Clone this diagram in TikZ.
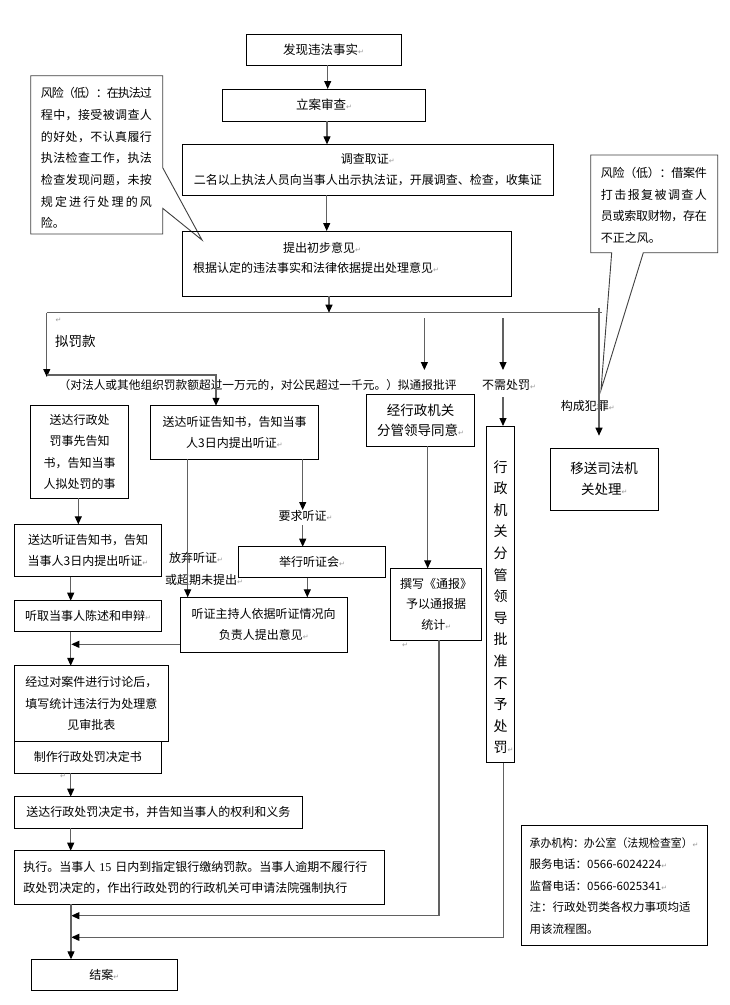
\documentclass[tikz,border=0pt]{standalone}
\usepackage{fontspec}
\usepackage{graphicx}
\setmainfont{Noto Sans CJK SC}
\newfontfamily\symf{DejaVu Sans}
\newfontfamily\serf{Liberation Serif}
\usetikzlibrary{arrows.meta}
\newcommand\fs[2]{\fontsize{#1}{#2}\selectfont}
\newcommand\pmk{{\symf\color{black!40}\fontsize{7}{7}\selectfont ↵}}
\def\sprA#1{#1\sprB}
\def\sprB#1{\ifx#1\relax\else\hskip 0pt plus 1fil minus 1fil#1\expandafter\sprB\fi}
\newcommand\jl[2]{\makebox[#1][s]{\sprA#2\relax}}
\begin{document}
\begin{tikzpicture}[x=1pt,y=-1pt,
  box/.style={draw=black,line width=0.8pt,inner sep=0pt,outer sep=0pt,align=center,font={\fs{12}{21.5}}},
  conn/.style={draw=black!62,line width=1.1pt},
  arr/.style={conn,-{Triangle[length=8pt,width=7pt,color=black]}},
  lbl/.style={inner sep=0pt,font={\fs{12}{14}}},
  callout/.style={draw=black!75,line width=0.9pt,fill=white,line join=miter},
  pmark/.style={inner sep=0pt}
]
\fill[white] (0,0) rectangle (730,1005);
\useasboundingbox (0,0) rectangle (730,1005);

% callouts
\draw[callout] (30.7,75.7) -- (162.7,75.7) -- (162.7,167.7) -- (202,240) -- (162.7,208.3) -- (162.7,234) -- (30.7,234) -- cycle;
\node[anchor=west,align=left,inner sep=0pt,font={\fs{12}{21.67}}] (c1t) at (40.7,158.3)
 {\jl{111pt}{风险（低）：在执法过}\\\jl{111pt}{程中，接受被调查人}\\\jl{111pt}{的好处，不认真履行}\\\jl{111pt}{执法检查工作，执法}\\\jl{111pt}{检查发现问题，未按}\\\jl{111pt}{规定进行处理的风}\\险。};
\draw[callout] (590.7,155) -- (717.7,155) -- (717.7,252.7) -- (643.3,252.7) -- (601,390) -- (611.7,252.7) -- (590.7,252.7) -- cycle;
\node[anchor=west,align=left,inner sep=0pt,font={\fs{12}{21.5}}] (c2t) at (600.7,205.5)
 {\jl{106pt}{风险（低）：借案件}\\\jl{106pt}{打击报复被调查人}\\\jl{106pt}{员或索取财物，存在}\\不正之风。};

% main column
\node[box,font={\fs{12.5}{15}},minimum width=155pt,minimum height=31pt] (b1) at (323.5,49.5) {发现违法事实\pmk};
\node[box,font={\fs{12.5}{15}},minimum width=203.4pt,minimum height=32pt] (b2) at (324,105) {立案审查\pmk};
\node[box,font={\fs{12}{20.6}},minimum width=371pt,minimum height=50.7pt] (b3) at (367.8,169.7) {调查取证\pmk\\二名以上执法人员向当事人出示执法证，开展调查、检查，收集证};
\node[box,minimum width=328.7pt,minimum height=65pt] (b4) at (346.7,263.5) {};
\node[lbl,anchor=west] (t4a) at (283,247.7) {提出初步意见\pmk};
\node[lbl,anchor=west] (t4b) at (193,267.7) {根据认定的违法事实和法律依据提出处理意见\pmk};

% left and middle columns
\node[box,minimum width=97.6pt,minimum height=92.6pt] (bs1) at (79.5,452) {送达行政处\\罚事先告知\\书，告知当事\\人拟处罚的事};
\node[box,font={\fs{12}{21}},minimum width=167.6pt,minimum height=53.3pt] (bm) at (234.5,432.4) {送达听证告知书，告知当事\\人3日内提出听证\pmk};
\node[box,font={\fs{12}{21.6}},minimum width=147.4pt,minimum height=52.4pt] (bl2) at (88,550.5) {送达听证告知书，告知\\当事人3日内提出听证\pmk};
\node[box,minimum width=147.4pt,minimum height=31pt] (bh) at (312,562.2) {举行听证会\pmk};
\node[box,minimum width=147.4pt,minimum height=31pt] (bt) at (88,616.2) {听取当事人陈述和申辩\pmk};
\node[box,font={\fs{12}{21}},minimum width=167.3pt,minimum height=55pt] (bhost) at (263.7,624.8) {听证主持人依据听证情况向\\负责人提出意见\pmk};
\node[box,font={\fs{12}{21.3}},minimum width=154pt,minimum height=75.3pt] (bd) at (91.3,703.4) {经过对案件进行讨论后，\\填写统计违法行为处理意\\见审批表};
\node[box,minimum width=147.4pt,minimum height=32.3pt] (bmk) at (88,757.2) {制作行政处罚决定书};
\node[box,minimum width=288pt,minimum height=31.6pt] (bdl) at (158.3,812.5) {送达行政处罚决定书，并告知当事人的权利和义务};
\node[box,align=left,text width=352pt,font={\fs{12}{21.7}},minimum width=370.7pt,minimum height=53.6pt] (bex) at (199.35,877.5) {执行。当事人 {\serf 15} 日内到指定银行缴纳罚款。当事人逾期不履行行\\政处罚决定的，作出行政处罚的行政机关可申请法院强制执行};
\node[box,minimum width=146.9pt,minimum height=31.4pt] (ben) at (104.35,975) {结案\pmk};

% right columns
\node[box,font={\fs{13.5}{20}},minimum width=107.6pt,minimum height=51.7pt] (bj) at (420.5,420.2) {经行政机关\\分管领导同意\pmk};
\node[box,font={\fs{12}{20.8}},minimum width=91pt,minimum height=71.7pt] (bz) at (436.2,604.2) {撰写《通报》\\予以通报据\\统计\pmk};
\node[box,minimum width=27.6pt,minimum height=336.7pt] (bv) at (500.5,594.35) {};
\node[inner sep=0pt,align=center,font={\fs{14}{21.6}}] (tv) at (500.5,607.2) {行\\政\\机\\关\\分\\管\\领\\导\\批\\准\\不\\予\\处\\罚\rlap{\pmk}};
\node[box,font={\fs{13.5}{21}},minimum width=108.3pt,minimum height=61.7pt] (by) at (604.2,479.2) {移送司法机\\关处理\pmk};
\node[box,align=left,text width=170pt,font={\fs{11.5}{21.5}},minimum width=185.7pt,minimum height=120pt] (binfo) at (614.65,885.7)
 {\resizebox{163pt}{\height}{承办机构：办公室（法规检查室）}\pmk\\服务电话：0566-6024224\pmk\\监督电话：0566-6025341\pmk\\注：行政处罚类各权力事项均适\\用该流程图。};

% labels
\node[lbl,anchor=west,font={\fs{13.5}{15}}] (lfk) at (55,341.7) {拟罚款};
\node[lbl,anchor=west,font={\fs{11.7}{14}}] (lcond) at (58.5,385) {（对法人或其他组织罚款额超过一万元的，对公民超过一千元。）拟通报批评};
\node[lbl,anchor=west] (lno) at (482,385) {不需处罚\pmk};
\node[lbl,anchor=west] (lcr) at (560.7,405.7) {构成犯罪\pmk};
\node[lbl,anchor=west] (lfq1) at (169,558.3) {放弃听证\pmk};
\node[lbl,anchor=west] (lfq2) at (165,580) {或超期未提出\pmk};
\node[lbl,anchor=west] (lrq) at (278.3,515.7) {要求听证\pmk};
\node[pmark] (pm1) at (58.5,320) {\pmk};
\node[pmark] (pm2) at (405,645) {\pmk};
\node[pmark] (pm3) at (63,776) {\pmk};

% connectors
\coordinate (mL) at (46.8,312.7);
\coordinate (mR) at (601.5,312.7);
\coordinate (lBr) at (46.8,375);
\coordinate (lEnd) at (46.8,377);
\coordinate (rTop) at (599,307.7);
\coordinate (rEnd) at (599,435.7);
\coordinate (a1s) at (424.4,318);
\coordinate (a1e) at (424.4,370);
\coordinate (a2s) at (503,318);
\coordinate (a2e) at (503,370);
\coordinate (a3s) at (503,397);
\coordinate (j1) at (71.3,915.7);
\coordinate (j2) at (71.3,937.3);
\coordinate (rq) at (302.7,510);
\coordinate (rq2) at (302.7,525);
\coordinate (hj) at (71.3,644.3);

\draw[arr] (327.7,0 |- b1.south) -- (327.7,0 |- b2.north);
\draw[arr] (327,0 |- b2.south) -- (327,0 |- b3.north);
\draw[arr] (326.7,0 |- b3.south) -- (326.7,0 |- b4.north);
\draw[arr] (329,0 |- b4.south) -- (329,0 |- mL);
\draw[conn] (mL) -- (mR);
\draw[arr] (rTop) -- (rEnd);
\draw[arr] (mL) -- (lEnd);
\draw[arr] (lBr) -| (216,0 |- bm.north);
\draw[arr] (a1s) -- (a1e);
\draw[arr] (a2s) -- (a2e);
\draw[arr] (a3s) -- (503,0 |- bv.north);
\draw[arr] (427.7,0 |- bj.south) -- (427.7,0 |- bz.north);
\draw[arr] (439,0 |- bz.south) |- (j1);
\draw[arr] (503.3,0 |- bv.south) |- (j2);
\draw[arr] (78.3,0 |- bs1.south) -- (78.3,0 |- bl2.north);
\draw[arr] (70.7,0 |- bl2.south) -- (70.7,0 |- bt.north);
\draw[arr] (70.7,0 |- bt.south) -- (70.7,0 |- bd.north);
\draw[arr] (bhost.west |- hj) -- (hj);
\draw[arr] (70.7,0 |- bmk.south) -- (70.7,0 |- bdl.north);
\draw[arr] (70.7,0 |- bdl.south) -- (70.7,0 |- bex.north);
\draw[arr] (71,0 |- bex.south) -- (71,0 |- ben.north);
\draw[arr] (187.7,0 |- bm.south) -- (187.7,0 |- bhost.north);
\draw[arr] (302.7,0 |- bm.south) -- (rq);
\draw[arr] (rq2) -- (302.7,0 |- bh.north);
\draw[arr] (307.3,0 |- bh.south) -- (307.3,0 |- bhost.north);
\end{tikzpicture}
\end{document}
